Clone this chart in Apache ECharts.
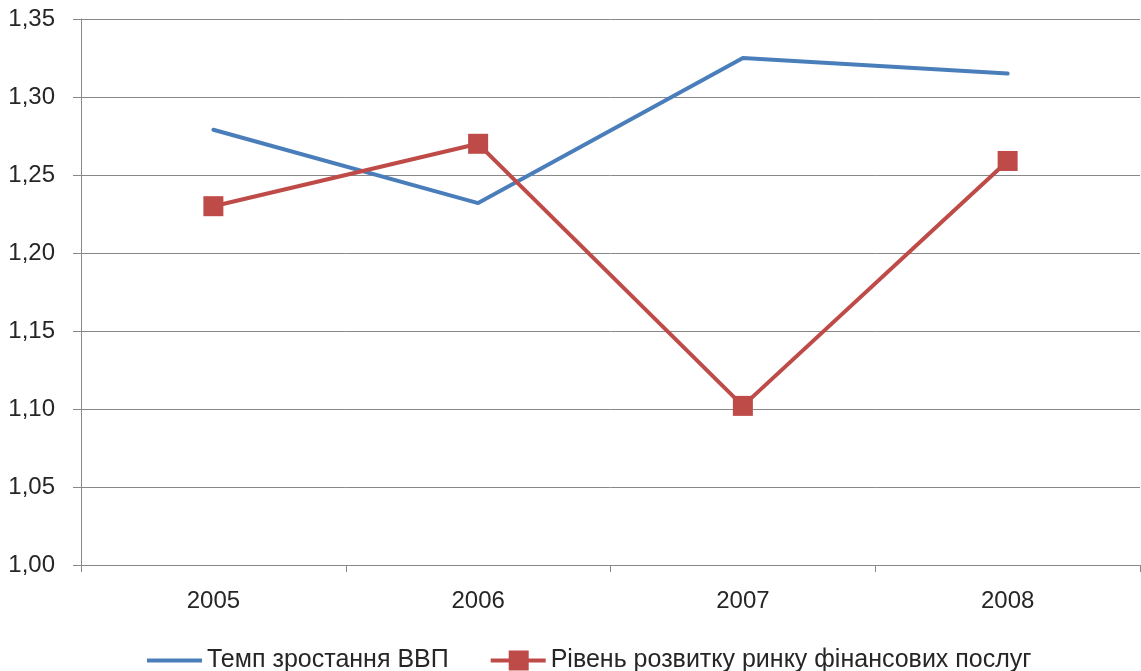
<!DOCTYPE html>
<html>
<head>
<meta charset="utf-8">
<script src="https://cdn.jsdelivr.net/npm/echarts@6/dist/echarts.min.js"></script>
<style>
  html, body { margin: 0; padding: 0; background: #fff; }
  #chart { width: 1141px; height: 671px; }
</style>
</head>
<body>
<div id="chart"></div>
<script>
// Years on the category axis
const years = ['2005', '2006', '2007', '2008'];
// GDP growth rate
const gdpGrowth = [1.279, 1.232, 1.325, 1.315];
// Financial services market development level
const finMarket = [1.230, 1.270, 1.102, 1.259];
// Value axis range and step
const yMin = 1.00;
const yMax = 1.35;
const yStep = 0.05;

const seriesNames = ['Темп зростання ВВП', 'Рівень розвитку ринку фінансових послуг'];
const textColor = '#262626';
const axisGray = '#888888';
const blue = '#4A7EBB';
const red = '#BE4B48';
const fontFamily = 'Liberation Sans, Arial, sans-serif';

const chart = echarts.init(document.getElementById('chart'), null, { renderer: 'canvas' });
chart.setOption({
  animation: false,
  backgroundColor: '#ffffff',
  grid: { left: 81, right: 1, top: 19, bottom: 106, containLabel: false },
  legend: {
    left: 142,
    top: 643,
    itemWidth: 55,
    itemHeight: 20,
    itemGap: 42,
    textStyle: { color: textColor, fontSize: 25, fontFamily: fontFamily },
    data: [
      { name: seriesNames[0], icon: 'path://M0,8 L55,8 L55,12 L0,12 Z', itemStyle: { color: blue } },
      { name: seriesNames[1], icon: 'path://M0,8 L55,8 L55,12 L0,12 Z M18,0 L38,0 L38,20 L18,20 Z', itemStyle: { color: red } }
    ]
  },
  xAxis: {
    type: 'category',
    data: years,
    boundaryGap: true,
    axisLine: { lineStyle: { color: axisGray, width: 1 } },
    axisTick: { show: true, length: 7, alignWithLabel: false, lineStyle: { color: axisGray } },
    axisLabel: { color: textColor, fontSize: 24, fontFamily: fontFamily, margin: 24 },
    splitLine: { show: false }
  },
  yAxis: {
    type: 'value',
    min: yMin,
    max: yMax,
    interval: yStep,
    axisLine: { show: true, lineStyle: { color: axisGray, width: 1 } },
    axisTick: { show: true, length: 8, lineStyle: { color: axisGray } },
    axisLabel: {
      color: textColor, fontSize: 24, fontFamily: fontFamily, margin: 26,
      formatter: v => v.toFixed(2).replace('.', ',')
    },
    splitLine: { show: true, lineStyle: { color: axisGray, width: 1 } }
  },
  series: [
    {
      name: seriesNames[0],
      type: 'line',
      data: gdpGrowth,
      symbol: 'none',
      lineStyle: { color: blue, width: 4, cap: 'round', join: 'round' },
      itemStyle: { color: blue }
    },
    {
      name: seriesNames[1],
      type: 'line',
      data: finMarket,
      symbol: 'rect',
      symbolSize: 20,
      lineStyle: { color: red, width: 4, cap: 'round', join: 'round' },
      itemStyle: { color: red }
    }
  ]
});
</script>
</body>
</html>
